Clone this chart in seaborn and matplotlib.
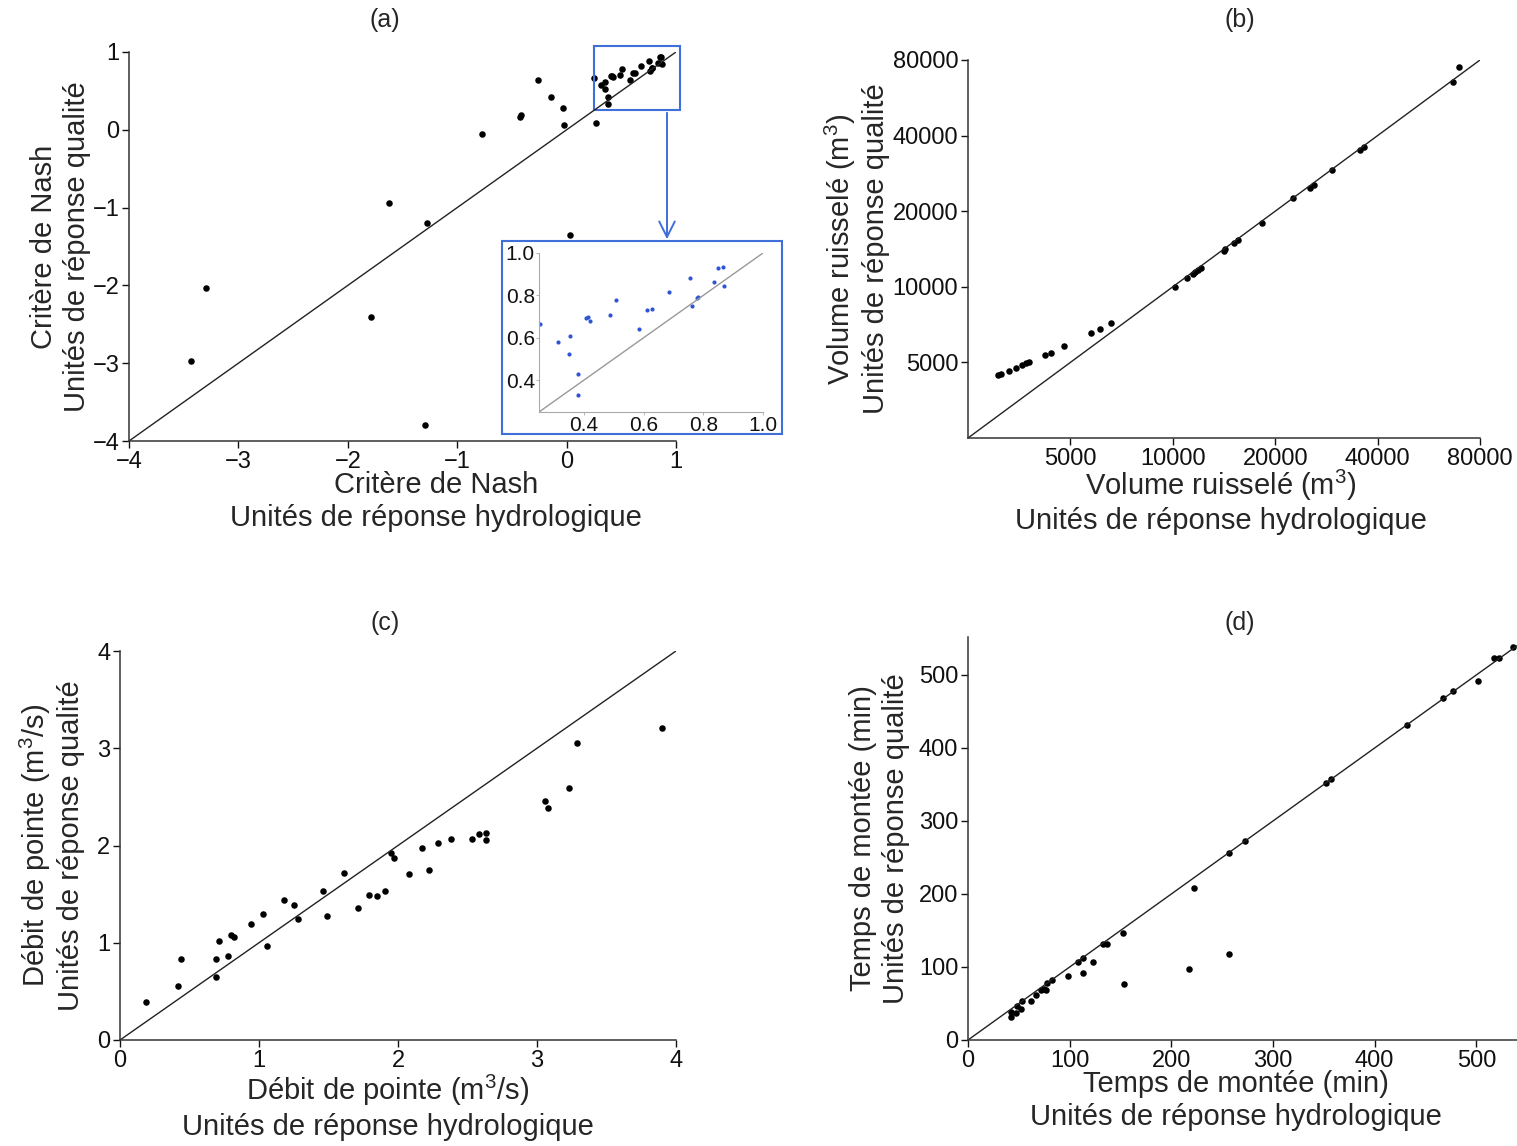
import matplotlib
matplotlib.use('Agg')
import matplotlib.pyplot as plt
import seaborn as sns
from matplotlib.patches import Rectangle
from matplotlib.ticker import FixedLocator, NullLocator

# (a) critère de Nash - points hors de la zone zoomée
nash_hru = [-3.43, -3.30, -1.62, -1.79, -1.28, -1.29, -0.77, -0.43, -0.42, -0.26,
            -0.14, -0.035, -0.025, 0.03, 0.27]
nash_qual = [-2.97, -2.03, -0.94, -2.41, -1.20, -3.79, -0.05, 0.165, 0.19, 0.636,
             0.426, 0.28, 0.057, -1.35, 0.083]
# points de la zone zoomée (0.25 - 1)
zoom_hru = [0.254, 0.314, 0.355, 0.350, 0.379, 0.380, 0.409, 0.413, 0.422, 0.487,
            0.507, 0.584, 0.610, 0.629, 0.684, 0.756, 0.762, 0.778, 0.781, 0.835,
            0.850, 0.867, 0.871]
zoom_qual = [0.666, 0.580, 0.608, 0.523, 0.428, 0.331, 0.695, 0.697, 0.677, 0.709,
             0.777, 0.642, 0.731, 0.736, 0.814, 0.883, 0.750, 0.789, 0.792, 0.864,
             0.930, 0.933, 0.844]

# (b) volume ruisselé (m3)
vol_hru = [3060, 3135, 3310, 3463, 3615, 3700, 3790, 4204, 4395, 4800, 5765, 6105,
           6570, 10180, 10990, 11440, 11650, 11880, 12110, 14110, 14270, 15150, 15550,
           18240, 22600, 25260, 26000, 29300, 35600, 36600, 66700, 69300]
vol_qual = [4450, 4490, 4600, 4743, 4876, 4953, 5012, 5330, 5460, 5790, 6560, 6820,
            7160, 9980, 10815, 11250, 11460, 11670, 11850, 13930, 14100, 14900, 15310,
            18000, 22490, 24800, 25480, 29060, 35200, 35970, 65600, 75300]

# (c) débit de pointe (m3/s)
q_hru = [0.19, 0.42, 0.44, 0.69, 0.69, 0.71, 0.78, 0.80, 0.82, 0.94, 1.03, 1.06, 1.18,
         1.25, 1.28, 1.46, 1.49, 1.61, 1.71, 1.79, 1.85, 1.91, 1.95, 1.97, 2.08, 2.17,
         2.22, 2.29, 2.38, 2.53, 2.58, 2.63, 2.63, 3.06, 3.08, 3.23, 3.29, 3.90]
q_qual = [0.39, 0.56, 0.83, 0.83, 0.65, 1.02, 0.86, 1.08, 1.06, 1.19, 1.30, 0.97, 1.44,
          1.39, 1.24, 1.53, 1.28, 1.72, 1.36, 1.49, 1.48, 1.53, 1.92, 1.87, 1.71, 1.97,
          1.75, 2.03, 2.07, 2.07, 2.12, 2.13, 2.06, 2.46, 2.39, 2.59, 3.05, 3.21]

# (d) temps de montée (min)
t_hru = [42, 42, 47, 48, 52, 53, 62, 67, 72, 75, 77, 78, 83, 98, 108, 113, 113, 123,
         133, 137, 152, 153, 217, 222, 257, 257, 272, 352, 357, 432, 467, 477, 502,
         517, 522, 536]
t_qual = [32, 38, 37, 47, 43, 53, 53, 62, 68, 70, 68, 78, 82, 87, 107, 92, 113, 107,
          132, 132, 147, 77, 97, 208, 118, 256, 272, 352, 357, 432, 468, 478, 492,
          523, 523, 538]

diag_a = [-4, 1]
diag_zoom = [0.25, 1.0]
diag_b = [2500, 80000]
diag_c = [0, 4]
diag_d = [0, 540]

sns.set_theme(style='ticks')
plt.rcParams['font.family'] = ['Liberation Sans', 'DejaVu Sans']
plt.rcParams['mathtext.fontset'] = 'custom'
plt.rcParams['mathtext.rm'] = 'Liberation Sans'
plt.rcParams['mathtext.it'] = 'Liberation Sans'

W, H = 1517, 1146
fig = plt.figure(figsize=(W / 100, H / 100), dpi=100)


def box(l, t, r, b):
    return [l / W, 1 - b / H, (r - l) / W, (b - t) / H]


blue = '#3f6fd8'
line_c = '#222222'
lab_fs = 21
tick_fs = 17


def style(ax):
    sns.despine(ax=ax)
    for s in ['left', 'bottom']:
        ax.spines[s].set_color('#333333')
        ax.spines[s].set_linewidth(1.1)
    ax.tick_params(direction='out', length=5, width=1, labelsize=tick_fs,
                   colors='#111111', pad=2)


# ---------- (a)
ax_a = fig.add_axes(box(129, 52, 676, 441))
sns.lineplot(x=diag_a, y=diag_a, ax=ax_a, color=line_c, lw=1)
sns.scatterplot(x=nash_hru + zoom_hru, y=nash_qual + zoom_qual, ax=ax_a,
                color='black', s=22, linewidth=0)
ax_a.set_xlim(-4, 1)
ax_a.set_ylim(-4, 1)
ax_a.set_xticks([-4, -3, -2, -1, 0, 1])
ax_a.set_yticks([-4, -3, -2, -1, 0, 1])
style(ax_a)
ax_a.set_xlabel('Critère de Nash\nUnités de réponse hydrologique', fontsize=lab_fs)
ax_a.set_ylabel('Critère de Nash\nUnités de réponse qualité', fontsize=lab_fs)
ax_a.xaxis.set_label_coords(0.561, -0.078)
ax_a.yaxis.set_label_coords(-0.07, 0.5)
ax_a.add_patch(Rectangle((0.25, 0.26), 0.79, 0.82, fill=False, ec=blue, lw=1.5,
                         clip_on=False))
ax_a.annotate('', xy=(667 / W, 1 - 242 / H), xycoords='figure fraction',
              xytext=(667 / W, 1 - 110 / H), textcoords='figure fraction',
              arrowprops=dict(arrowstyle='->', color=blue, lw=1.4,
                              mutation_scale=28))

# encart
fig.patches.append(Rectangle((502 / W, 1 - 434 / H), 280 / W, 193 / H,
                             transform=fig.transFigure, fill=False, ec=blue,
                             lw=1.5))
ax_in = fig.add_axes(box(539, 253, 763, 412))
sns.lineplot(x=diag_zoom, y=diag_zoom, ax=ax_in, color='#999999', lw=1)
sns.scatterplot(x=zoom_hru, y=zoom_qual, ax=ax_in, color='#2f55d4', s=9,
                linewidth=0)
ax_in.set_xlim(0.25, 1.0)
ax_in.set_ylim(0.25, 1.0)
ax_in.set_xticks([0.4, 0.6, 0.8, 1.0])
ax_in.set_yticks([0.4, 0.6, 0.8, 1.0])
sns.despine(ax=ax_in)
for s in ['left', 'bottom']:
    ax_in.spines[s].set_color('#aaaaaa')
    ax_in.spines[s].set_linewidth(0.8)
ax_in.tick_params(length=2, width=0.6, colors='#aaaaaa', labelsize=15,
                  labelcolor='#111111', pad=1)

# ---------- (b)
ax_b = fig.add_axes(box(968, 60, 1480, 438))
sns.lineplot(x=diag_b, y=diag_b, ax=ax_b, color=line_c, lw=1)
sns.scatterplot(x=vol_hru, y=vol_qual, ax=ax_b, color='black', s=22, linewidth=0)
ax_b.set_xscale('log')
ax_b.set_yscale('log')
ax_b.set_xlim(2500, 80000)
ax_b.set_ylim(2500, 80000)
vol_ticks = [5000, 10000, 20000, 40000, 80000]
for axis in (ax_b.xaxis, ax_b.yaxis):
    axis.set_major_locator(FixedLocator(vol_ticks))
    axis.set_minor_locator(NullLocator())
ax_b.set_xticklabels([str(v) for v in vol_ticks])
ax_b.set_yticklabels([str(v) for v in vol_ticks])
style(ax_b)
ax_b.set_xlabel('Volume ruisselé (m$^3$)\nUnités de réponse hydrologique',
                fontsize=lab_fs)
ax_b.set_ylabel('Volume ruisselé (m$^3$)\nUnités de réponse qualité', fontsize=lab_fs)
ax_b.xaxis.set_label_coords(0.494, -0.078)
ax_b.yaxis.set_label_coords(-0.152, 0.5)

# ---------- (c)
ax_c = fig.add_axes(box(120, 651, 676, 1040))
sns.lineplot(x=diag_c, y=diag_c, ax=ax_c, color=line_c, lw=1)
sns.scatterplot(x=q_hru, y=q_qual, ax=ax_c, color='black', s=22, linewidth=0)
ax_c.set_xlim(0, 4)
ax_c.set_ylim(0, 4)
ax_c.set_xticks([0, 1, 2, 3, 4])
ax_c.set_yticks([0, 1, 2, 3, 4])
style(ax_c)
ax_c.set_xlabel('Débit de pointe (m$^3$/s)\nUnités de réponse hydrologique',
                fontsize=lab_fs)
ax_c.set_ylabel('Débit de pointe (m$^3$/s)\nUnités de réponse qualité', fontsize=lab_fs)
ax_c.xaxis.set_label_coords(0.482, -0.085)
ax_c.yaxis.set_label_coords(-0.063, 0.5)

# ---------- (d)
ax_d = fig.add_axes(box(968, 637, 1517, 1040))
sns.lineplot(x=diag_d, y=diag_d, ax=ax_d, color=line_c, lw=1)
sns.scatterplot(x=t_hru, y=t_qual, ax=ax_d, color='black', s=22, linewidth=0)
ax_d.set_xlim(0, 540)
ax_d.set_ylim(0, 552)
ax_d.set_xticks([0, 100, 200, 300, 400, 500])
ax_d.set_yticks([0, 100, 200, 300, 400, 500])
style(ax_d)
ax_d.set_xlabel('Temps de montée (min)\nUnités de réponse hydrologique',
                fontsize=lab_fs)
ax_d.set_ylabel('Temps de montée (min)\nUnités de réponse qualité', fontsize=lab_fs)
ax_d.xaxis.set_label_coords(0.488, -0.075)
ax_d.yaxis.set_label_coords(-0.106, 0.5)

for txt, x, y in [('(a)', 385, 20), ('(b)', 1240, 20), ('(c)', 385, 623),
                  ('(d)', 1240, 623)]:
    fig.text(x / W, 1 - y / H, txt, ha='center', va='center', fontsize=18)

fig.savefig('out.png', dpi=100)
